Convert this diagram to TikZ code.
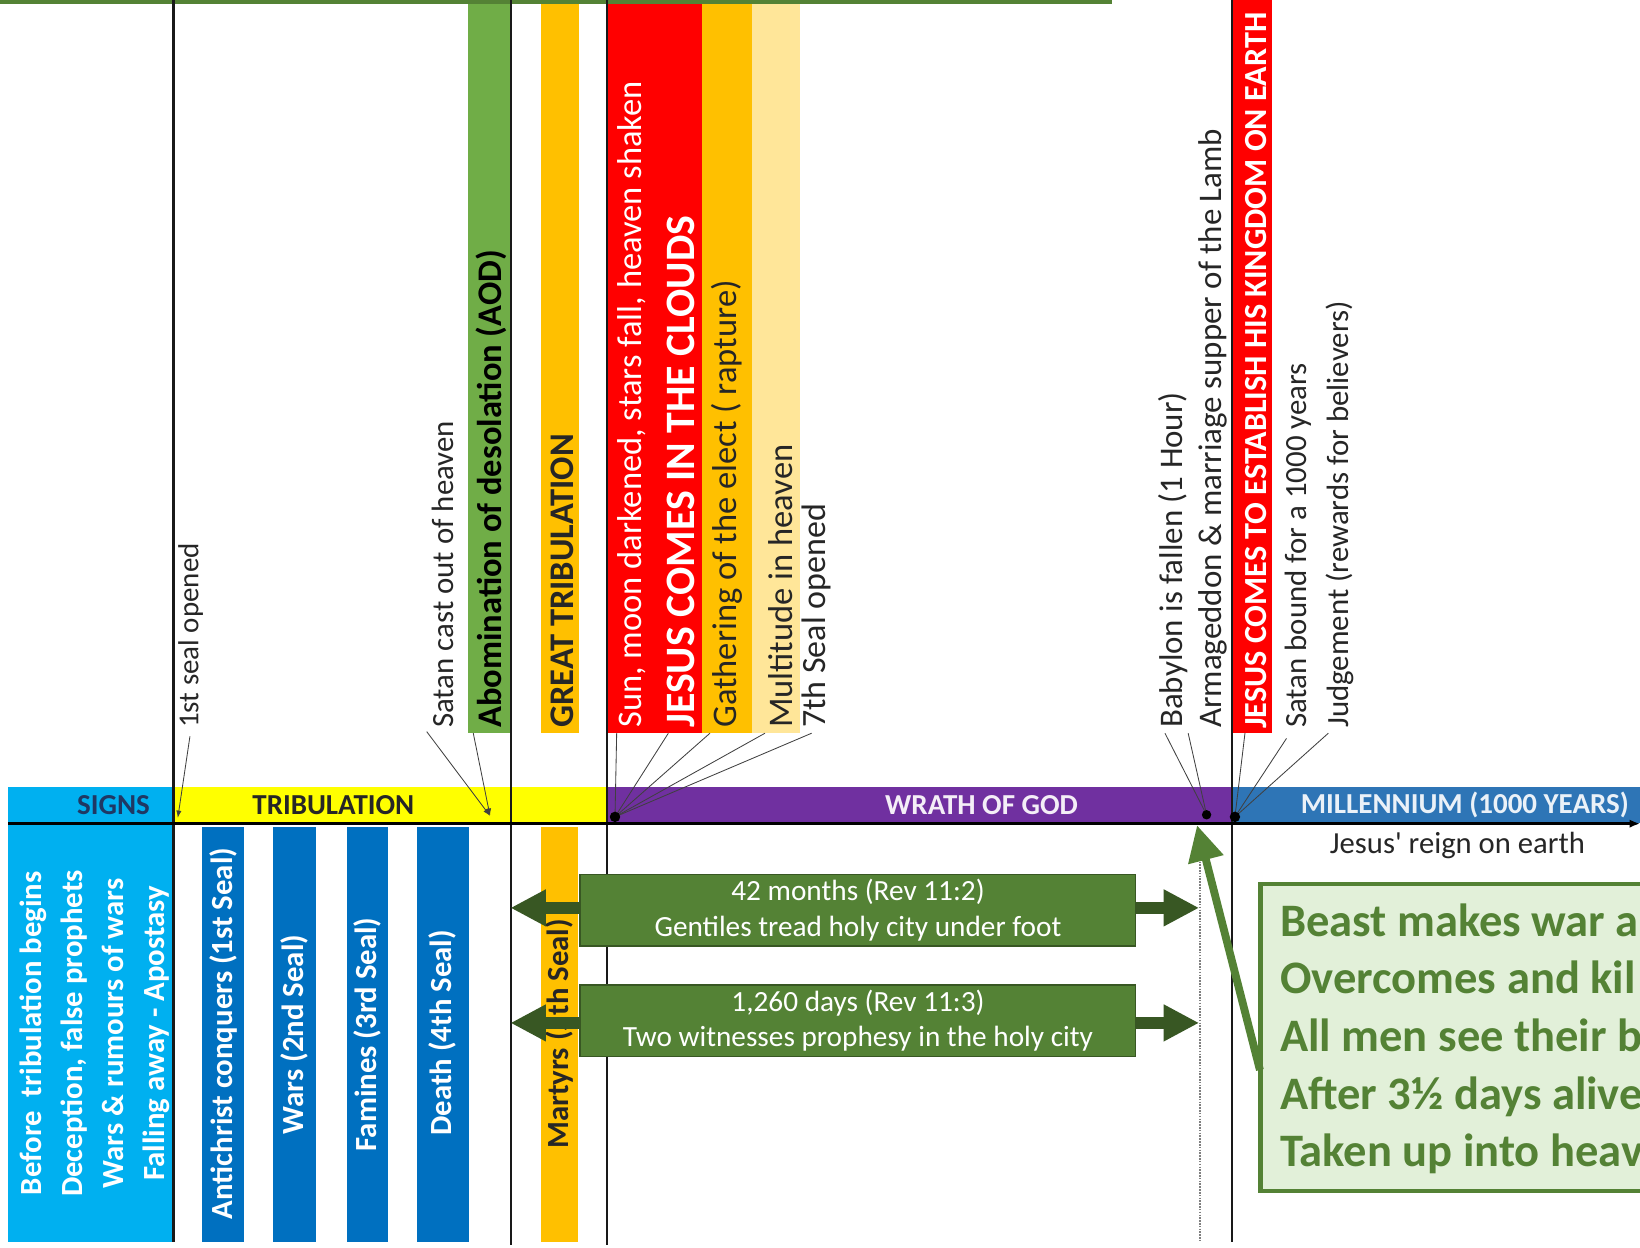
\documentclass[tikz,border=0pt]{standalone}
\usepackage{fontspec}
\setmainfont{Carlito}
\usetikzlibrary{arrows.meta}
\definecolor{cyanb}{HTML}{00B0F0}
\definecolor{yel}{HTML}{FFFF00}
\definecolor{purp}{HTML}{7030A0}
\definecolor{milb}{HTML}{2E75B6}
\definecolor{darkb}{HTML}{0070C0}
\definecolor{aodg}{HTML}{70AD47}
\definecolor{orng}{HTML}{FFC000}
\definecolor{lyel}{HTML}{FFE699}
\definecolor{redb}{HTML}{FF0000}
\definecolor{boxg}{HTML}{548235}
\definecolor{arrg}{HTML}{385723}
\definecolor{lgrn}{HTML}{E2F0D9}
\definecolor{txt}{HTML}{262626}
\definecolor{navy}{HTML}{1F3864}
\definecolor{leadc}{HTML}{404040}
\begin{document}
\begin{tikzpicture}[x=1pt,y=-1pt,
  lbl/.style={rotate=90, anchor=west, inner sep=0pt, text=txt},
  barlbl/.style={rotate=90, anchor=center, inner sep=0pt, text=white, font=\fontsize{29.4}{36}\selectfont\bfseries},
  bandlbl/.style={anchor=center, inner sep=0pt, font=\fontsize{27.7}{33}\selectfont\bfseries},
  vline/.style={line width=2.5pt, draw=black!90},
  leader/.style={draw=leadc, line width=0.8pt},
  leadarrow/.style={leader, -{Latex[length=7pt,width=5pt]}},
  dotmark/.style={fill=black},
  gbox/.style={fill=boxg, draw=arrg, line width=1.5pt, minimum width=531pt, minimum height=68.5pt, inner sep=0pt, text=white, align=center, font=\fontsize{28}{34}\selectfont},
  barrow/.style={draw=arrg, line width=11pt, -{Triangle[length=34pt,width=33pt]}},
  beastline/.style={anchor=base west, inner sep=0pt, text=boxg, font=\fontsize{44.5}{55}\selectfont\bfseries}
]
\useasboundingbox (0,0) rectangle (1568,1192.3);
\clip (0,0) rectangle (1568,1192.3);
\fill[white] (0,0) rectangle (1568,1192.3);

% upper bars
\fill[aodg] (447,0) rectangle (488,701);
\fill[orng] (517,0) rectangle (553.5,701);
\fill[redb] (581,0) rectangle (670.8,701);
\fill[orng] (670.8,0) rectangle (719.2,701);
\fill[lyel] (719.2,0) rectangle (765,701);
\fill[redb] (1178,0) rectangle (1216,701);

% band
\fill[cyanb] (8,752) rectangle (166,787);
\fill[yel] (166,752) rectangle (580,787);
\fill[purp] (580,752) rectangle (1178,787);
\fill[milb] (1178,752) rectangle (1568,787);

% lower bars
\fill[cyanb] (8,789) rectangle (166,1187);
\fill[darkb] (193.6,791) rectangle (233.3,1187);
\fill[darkb] (260.8,791) rectangle (302.4,1187);
\fill[darkb] (331.8,791) rectangle (371.2,1187);
\fill[darkb] (398.8,791) rectangle (448,1187);
\fill[orng] (517,791) rectangle (552.6,1187);

% top green edge
\draw[boxg, line width=5pt] (0,1.5) -- (1063,1.5);

% vertical lines
\draw[vline] (166,0) -- (166,1187);
\draw[vline] (488.5,0) -- (488.5,1190);
\draw[vline] (580.5,0) -- (580.5,1190);
\draw[vline] (1178,0) -- (1178,1187);
\coordinate (dtop) at (1147.2,815.6);
\coordinate (dbot) at (1147.2,1186);
\draw[gray, line width=1.8pt, dash pattern=on 1.5pt off 1.2pt] (dtop) -- (dbot);

% horizontal timeline
\coordinate (tl0) at (8,787.5);
\coordinate (tl1) at (1568,787.5);
\draw[line width=3pt, -{Latex[length=10pt,width=8pt]}] (tl0) -- (tl1);

% band labels
\node[bandlbl, text=navy] (signs) at (108.5,770) {SIGNS};
\node[bandlbl, text=txt] (trib) at (318.7,770) {TRIBULATION};
\node[bandlbl, text=purp!8] (wrath) at (938.5,770) {WRATH OF GOD};
\node[bandlbl, text=milb!10] (mill) at (1400.5,770) {MILLENNIUM (1000 YEARS)};

% upper labels
\node[lbl, font=\fontsize{27.7}{33}\selectfont] (n1st) at (182.3,696) {1st seal opened};
\node[lbl, font=\fontsize{29.5}{35}\selectfont] (nsatan) at (423.8,696) {Satan cast out of heaven};
\node[lbl, font=\fontsize{33}{40}\selectfont\bfseries, text=black] (naod) at (470,696) {Abomination of desolation (AOD)};
\node[lbl, font=\fontsize{33}{40}\selectfont\bfseries] (ngt) at (538,696) {GREAT TRIBULATION};
\node[lbl, font=\fontsize{33}{40}\selectfont, text=white] (nsun) at (604,696) {Sun, moon darkened, stars fall, heaven shaken};
\node[lbl, font=\fontsize{40}{48}\selectfont\bfseries, text=white] (njc) at (650.8,696) {JESUS COMES IN THE CLOUDS};
\node[lbl, font=\fontsize{33}{40}\selectfont] (ngath) at (694.7,696) {Gathering of the elect ( rapture)};
\node[lbl, font=\fontsize{33}{40}\selectfont] (nmult) at (746,696) {Multitude in heaven};
\node[lbl, font=\fontsize{32.5}{39}\selectfont] (n7th) at (781,696) {7th Seal opened};
\node[lbl, font=\fontsize{31.5}{38}\selectfont] (nbab) at (1121.8,696) {Babylon is fallen (1 Hour)};
\node[lbl, font=\fontsize{31.5}{38}\selectfont] (narm) at (1160,696) {Armageddon \& marriage supper of the Lamb};
\node[lbl, font=\fontsize{30.8}{37}\selectfont\bfseries, text=white] (njest) at (1200.5,697) {JESUS COMES TO ESTABLISH HIS KINGDOM ON EARTH};
\node[lbl, font=\fontsize{29.5}{35}\selectfont] (nsb) at (1241,696) {Satan bound for a 1000 years};
\node[lbl, font=\fontsize{29.5}{35}\selectfont] (njudg) at (1281,696) {Judgement (rewards for believers)};

% leaders
\coordinate (p1st) at (170,782);
\coordinate (paod) at (468.5,780);
\coordinate (pjc) at (588,781);
\coordinate (pbab) at (1153.6,779);
\coordinate (pest) at (1180.7,781);
\coordinate (s1st) at (181.6,704);
\coordinate (ssatan) at (408,699.5);
\coordinate (saod) at (452.5,701);
\coordinate (ssun) at (589.6,701);
\coordinate (sjc) at (639,701);
\coordinate (sgath) at (678.8,701);
\coordinate (smult) at (731.4,701);
\coordinate (s7th) at (776,701);
\coordinate (sbab) at (1113.8,701);
\coordinate (sarm) at (1136,701);
\coordinate (sjest) at (1190.3,701);
\coordinate (ssb) at (1230,706);
\coordinate (sjudg) at (1270,701);
\draw[leadarrow] (s1st) -- (p1st);
\draw[leadarrow] (ssatan) -- (paod);
\draw[leadarrow] (saod) -- (paod);
\foreach \s in {ssun,sjc,sgath,smult,s7th} \draw[leader] (\s) -- (pjc);
\foreach \s in {sbab,sarm} \draw[leader] (\s) -- (pbab);
\foreach \s in {sjest,ssb,sjudg} \draw[leader] (\s) -- (pest);
\fill[dotmark] (pjc) circle (5pt);
\fill[dotmark] (pbab) circle (4.5pt);
\fill[dotmark] (pest) circle (5pt);

% lower labels
\node[barlbl, align=center, font=\fontsize{29.4}{39}\selectfont\bfseries] (signsbox) at (90.5,988) {Before\ \ tribulation begins\\Deception, false prophets\\Wars \& rumours of wars\\Falling away - Apostasy};
\node[barlbl] (s1) at (213.5,988) {Antichrist conquers (1st Seal)};
\node[barlbl] (s2) at (281.6,989) {Wars (2nd Seal)};
\node[barlbl] (s3) at (351.5,989) {Famines (3rd Seal)};
\node[barlbl] (s4) at (423.4,987.5) {Death (4th Seal)};
\node[barlbl, text=txt] (s5) at (535,988.6) {Martyrs (5th Seal)};

% green period boxes and arrows
\node[gbox] (m42) at (820.3,870.3) {42 months (Rev 11:2)\\Gentiles tread holy city under foot};
\node[gbox] (d1260) at (820.3,975.9) {1,260 days (Rev 11:3)\\Two witnesses prophesy in the holy city};
\coordinate (tipL1) at (488,868);
\coordinate (tipR1) at (1146.5,868);
\coordinate (tipL2) at (488,978);
\coordinate (tipR2) at (1146.5,978);
\draw[barrow] (m42.west |- tipL1) -- (tipL1);
\draw[barrow] (m42.east |- tipR1) -- (tipR1);
\draw[barrow] (d1260.west |- tipL2) -- (tipL2);
\draw[barrow] (d1260.east |- tipR2) -- (tipR2);

% millennium
\node[anchor=base, inner sep=0pt, text=txt, font=\fontsize{29.3}{35}\selectfont] (reign) at (1393.4,815.8) {Jesus\textquotesingle{} reign on earth};

\node[draw=boxg, line width=4.5pt, fill=lgrn, minimum width=434.75pt, minimum height=293.5pt, inner sep=0pt] (beastbox) at (1422.6,992) {};
\node[beastline] (b1) at (1223.7,895.5) {Beast makes war a};
\node[beastline] (b2) at (1223.7,949.7) {Overcomes and kil};
\node[beastline] (b3) at (1223.7,1005.4) {All men see their b};
\node[beastline] (b4) at (1223.7,1060.5) {After 3½ days alive};
\node[beastline] (b5) at (1223.7,1115.4) {Taken up into heav};
\coordinate (gstart) at (1204.6,1023);
\coordinate (gtip) at (1144.5,789);
\draw[boxg, line width=7.5pt, -{Triangle[length=34pt,width=33pt]}] (gstart) -- (gtip);
\end{tikzpicture}
\end{document}
